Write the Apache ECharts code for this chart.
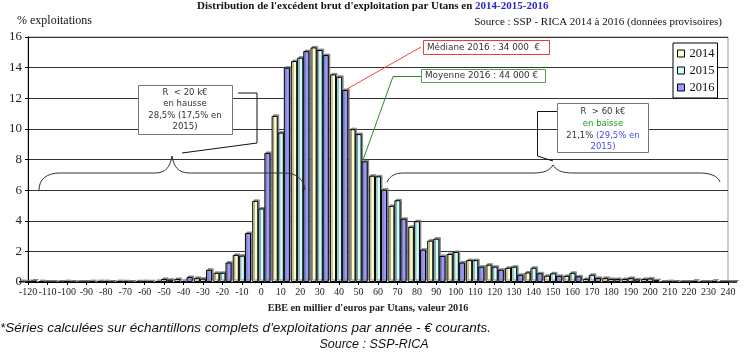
<!DOCTYPE html>
<html>
<head>
<meta charset="utf-8">
<script src="https://cdn.jsdelivr.net/npm/echarts@6/dist/echarts.min.js"></script>
<style>html,body{margin:0;padding:0;background:#fff}#c{width:752px;height:357px}</style>
</head>
<body>
<div id="c"></div>
<script>
// EBE classes (k€ per UTA)
const categories = [-120,-110,-100,-90,-80,-70,-60,-50,-40,-30,-20,-10,0,10,20,30,40,50,60,70,80,90,100,110,120,130,140,150,160,170,180,190,200,210,220,230,240];
const tickLabels = categories.map(String);
const yTicks = [0,2,4,6,8,10,12,14,16];
const seriesNames = ['2014','2015','2016'];
const v2014 = [0.03,0.03,0,0,0.03,0.03,0.02,0.05,0.2,0.27,0.6,1.77,5.3,10.85,14.43,15.32,13.56,9.98,6.94,4.97,3.6,2.7,1.83,1.43,1.13,0.93,0.62,0.41,0.4,0.2,0.27,0.2,0.2,0,0,0,0];
const v2015 = [0.03,0,0.03,0,0.03,0.02,0.03,0.2,0.07,0.22,0.6,1.72,4.8,9.76,14.65,15.15,13.4,9.66,6.9,5.34,3.97,2.83,1.96,1.43,1.0,1.0,0.93,0.57,0.6,0.47,0.2,0.27,0.23,0.03,0,0,0];
const v2016 = [0.1,0,0,0.03,0,0,0.02,0.15,0.33,0.8,1.27,3.2,8.43,14.0,15.08,14.82,12.54,7.88,6.03,4.13,2.11,1.7,1.27,1.0,0.8,0.47,0.57,0.4,0.37,0.27,0.2,0.17,0.12,0,0.08,0.08,0];

const colors = ['#FFFFCC','#CCFFFF','#9999FF'];
const serif = '"Liberation Serif", "Times New Roman", serif';
const sans = '"DejaVu Sans", Verdana, sans-serif';

function mkSeries(name, data, color) {
  return {
    name: name, type: 'bar', data: data, clip: true,
    barGap: '0%', barCategoryGap: '6%',
    itemStyle: { color: color, borderColor: '#000', borderWidth: 1,
      shadowColor: 'rgba(120,120,120,0.8)', shadowOffsetX: 1.5, shadowOffsetY: -1.5, shadowBlur: 0 },
    emphasis: { disabled: true },
    animation: false
  };
}

function line(points, color) {
  return { type: 'polyline', shape: { points: points }, style: { stroke: color, lineWidth: 1, fill: null }, silent: true, z: 10 };
}
function curve(p1, c1, c2, p2) {
  return { type: 'bezierCurve', shape: { x1: p1[0], y1: p1[1], cpx1: c1[0], cpy1: c1[1], cpx2: c2[0], cpy2: c2[1], x2: p2[0], y2: p2[1] },
    style: { stroke: '#333', lineWidth: 1, fill: null }, silent: true, z: 9 };
}
function box(x, y, w, h, stroke) {
  return { type: 'rect', shape: { x: x, y: y, width: w, height: h }, style: { fill: '#fff', stroke: stroke, lineWidth: 1 }, z: 10 };
}

const chart = echarts.init(document.getElementById('c'), null, { renderer: 'canvas' });
chart.setOption({
  animation: false,
  backgroundColor: '#fff',
  title: {
    text: "{a|Distribution de l'excédent brut d'exploitation par Utans en }{b|2014-2015-2016}",
    left: 197, top: 1, padding: 0,
    textStyle: { rich: {
      a: { fontFamily: serif, fontWeight: 'bold', fontSize: 11, color: '#111' },
      b: { fontFamily: serif, fontWeight: 'bold', fontSize: 11, color: '#2828c8' }
    } }
  },
  legend: {
    data: seriesNames, orient: 'vertical', left: 673, top: 43,
    padding: [4, 3, 4, 4], itemGap: 4, itemWidth: 7, itemHeight: 7, icon: 'rect',
    borderColor: '#000', borderWidth: 1, backgroundColor: '#fff',
    itemStyle: { borderColor: '#000', borderWidth: 1, shadowBlur: 0, shadowOffsetX: 0, shadowOffsetY: 0, shadowColor: 'transparent' },
    textStyle: { fontFamily: serif, fontSize: 12.5, color: '#111' },
    selectedMode: false
  },
  grid: { left: 28, right: 24, top: 37, bottom: 75, show: true, borderColor: '#999', borderWidth: 1, containLabel: false },
  xAxis: {
    type: 'category', data: tickLabels, boundaryGap: false,
    axisLine: { lineStyle: { color: '#000', width: 1 } },
    axisTick: { show: true, interval: 0, length: 3, lineStyle: { color: '#000' } },
    axisLabel: { interval: 0, fontFamily: serif, fontSize: 10, color: '#222', margin: 5 },
    splitLine: { show: false }
  },
  yAxis: {
    type: 'value', min: 0, max: 16, interval: 2,
    axisLine: { show: true, lineStyle: { color: '#000', width: 1 } },
    axisTick: { show: true, length: 3, lineStyle: { color: '#000' } },
    axisLabel: { fontFamily: serif, fontSize: 13, color: '#222', margin: 6 },
    splitLine: { lineStyle: { color: '#333', width: 1 } }
  },
  series: [mkSeries('2014', v2014, colors[0]), mkSeries('2015', v2015, colors[1]), mkSeries('2016', v2016, colors[2])],
  graphic: [
    { type: 'text', x: 17, y: 21, style: { text: '% exploitations', font: '12px ' + serif, fill: '#111', textVerticalAlign: 'middle' } },
    { type: 'text', x: 722, y: 22, style: { text: 'Source : SSP - RICA 2014 à 2016 (données provisoires)', font: '11px ' + serif, fill: '#111', textAlign: 'right', textVerticalAlign: 'middle' } },
    { type: 'text', x: 368, y: 308, style: { text: "EBE en millier d'euros par Utans, valeur 2016", font: 'bold 10.2px ' + serif, fill: '#222', textAlign: 'center', textVerticalAlign: 'middle' } },
    { type: 'text', x: 0, y: 328, style: { text: "*Séries calculées sur échantillons complets d'exploitations par année - € courants.", font: 'italic 13.5px "Liberation Sans", Arial, sans-serif', fill: '#111', textVerticalAlign: 'middle' } },
    { type: 'text', x: 374, y: 345, style: { text: 'Source : SSP-RICA', font: 'italic 12.5px "Liberation Sans", Arial, sans-serif', fill: '#111', textAlign: 'center', textVerticalAlign: 'middle' } },

    // brace left (R < 20 k€)
    curve([39,190],[39,179],[47,173],[60,173]),
    line([[60,173],[155,173]], '#333'),
    curve([155,173],[166,173],[170,167],[172,156]),
    curve([172,156],[174,167],[178,173],[190,173]),
    line([[190,173],[285,173]], '#333'),
    curve([285,173],[297,173],[304,180],[305,190]),
    // brace right (R > 60 k€)
    curve([387,182],[390,176],[395,173],[403,173]),
    line([[403,173],[533,173]], '#333'),
    curve([533,173],[545,173],[550,170],[553,165]),
    curve([553,165],[556,170],[561,173],[573,173]),
    line([[573,173],[700,173]], '#333'),
    curve([700,173],[710,173],[718,176],[720,182]),

    // box R < 20
    line([[238,93],[257,93],[257,143],[182,153]], '#111'),
    box(138.5, 85.5, 94, 49, '#777'),
    { type: 'text', x: 185, y: 110, z: 11, style: { text: 'R  < 20 k€\nen hausse\n28,5% (17,5% en\n2015)', font: '8.5px ' + sans, fill: '#333', textAlign: 'center', textVerticalAlign: 'middle', lineHeight: 11.5 } },

    // median
    line([[347,89],[421,47]], '#ff4040'),
    box(423.5, 40.5, 126, 14, '#e84040'),
    { type: 'text', x: 427, y: 47.5, z: 11, style: { text: 'Médiane 2016 : 34 000  €', font: '8.8px ' + sans, fill: '#333', textVerticalAlign: 'middle' } },

    // moyenne
    line([[363,160],[393,76.5],[422,76.5]], '#2a8a2a'),
    box(421.5, 69.5, 124, 13, '#5aa05a'),
    { type: 'text', x: 425, y: 76, z: 11, style: { text: 'Moyenne 2016 : 44 000 €', font: '8.8px ' + sans, fill: '#333', textVerticalAlign: 'middle' } },

    // box R > 60
    line([[557,111.5],[537.5,111.5],[537.5,156],[553,161]], '#111'),
    box(557.5, 103.5, 91, 49, '#777'),
    { type: 'text', x: 603, y: 129.5, z: 11, style: {
      text: '{d|R  > 60 k€}\n{g|en baisse}\n{d|21,1% }{b|(29,5% en}\n{b|2015)}',
      textAlign: 'center', textVerticalAlign: 'middle',
      rich: {
        d: { fontFamily: sans, fontSize: 8.5, fill: '#333', lineHeight: 11.8 },
        g: { fontFamily: sans, fontSize: 8.5, fill: '#1e9a1e', lineHeight: 11.8 },
        b: { fontFamily: sans, fontSize: 8.5, fill: '#4848ff', lineHeight: 11.8 }
      } } }
  ]
});
</script>
</body>
</html>
